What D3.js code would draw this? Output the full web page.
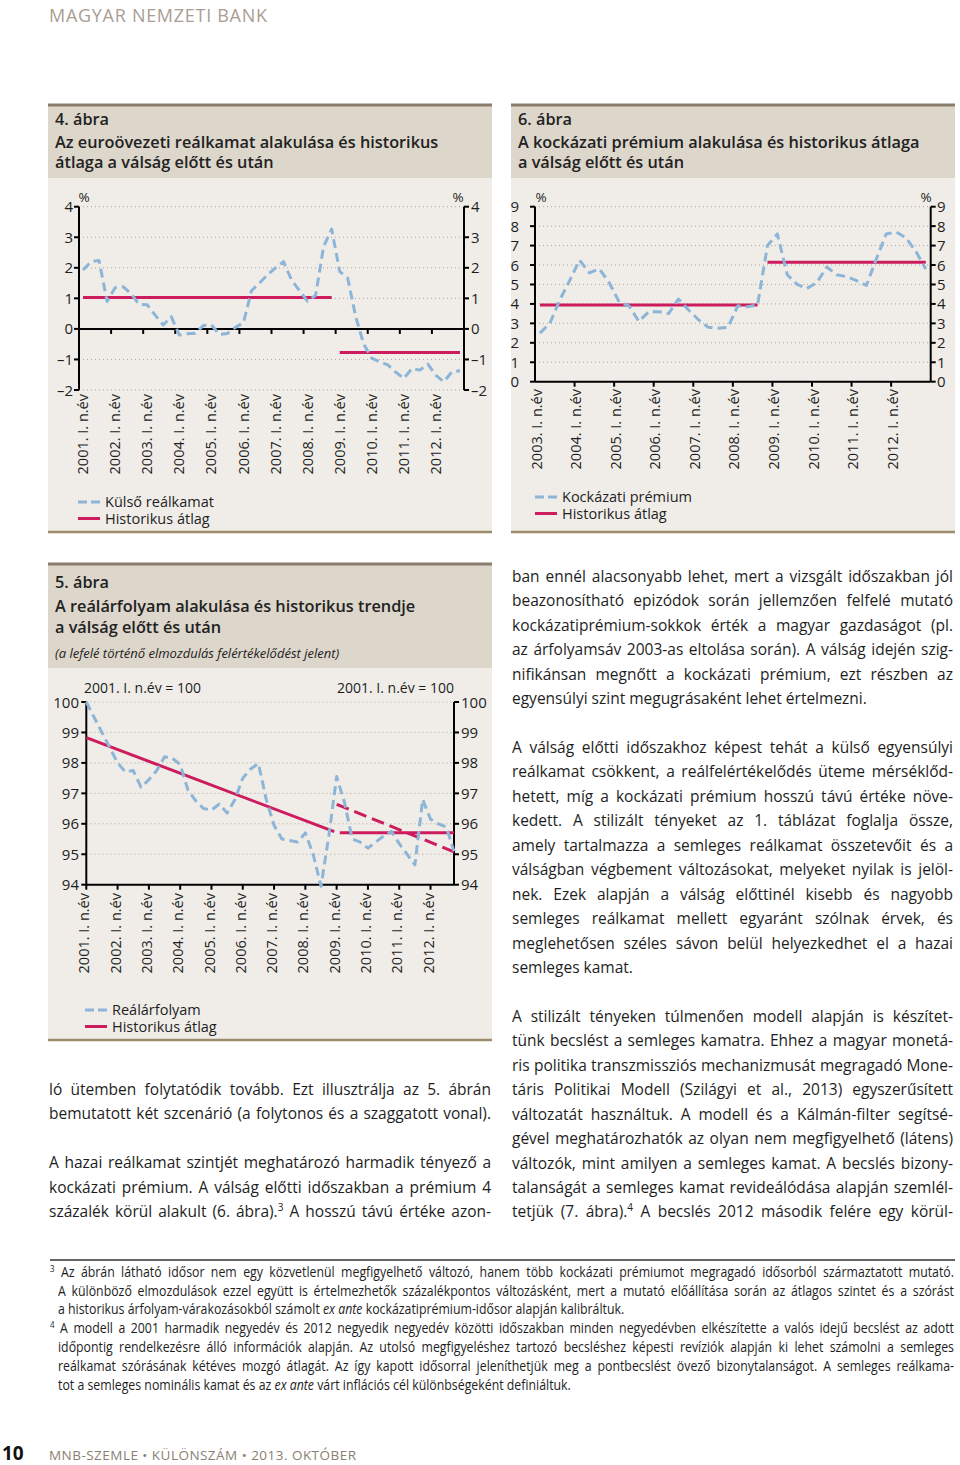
<!DOCTYPE html>
<html><head><meta charset="utf-8">
<script src="https://cdn.jsdelivr.net/npm/d3@7"></script>
<style>
body{margin:0;background:#fff;}
#page{position:relative;width:960px;height:1465px;overflow:hidden;font-family:"Open Sans",Lato,sans-serif;color:#1e1e1e;}
#page svg{position:absolute;left:0;top:0;}
.ln{position:absolute;white-space:nowrap;text-align:justify;text-align-last:justify;font-size:15.5px;}
.ln.last{text-align-last:left;}
.fn{position:absolute;white-space:nowrap;text-align:justify;text-align-last:justify;font-family:"Open Sans",sans-serif;font-size:14px;transform-origin:0 0;transform:scaleX(0.88);}
.fn.last{text-align-last:left;}
</style></head><body><div id="page"></div>
<script>
// ---------- DATA ----------
const ch4Years = [2001,2002,2003,2004,2005,2006,2007,2008,2009,2010,2011,2012];
const ch4Values = [1.93,2.2,2.24,0.9,1.35,1.38,1.15,0.8,0.79,0.45,0.13,0.4,
  -0.2,-0.16,-0.14,0.11,0.13,-0.18,-0.15,0.05,0.2,1.25,1.5,1.77,
  2.0,2.2,1.6,1.25,0.9,1.1,2.7,3.27,1.88,1.66,0.4,-0.5,
  -0.96,-1.08,-1.18,-1.42,-1.62,-1.3,-1.35,-1.15,-1.52,-1.73,-1.4,-1.37];
const ch4AvgFrom = [0,32];
const ch4AvgTo = [31,47];
const ch4AvgValue = [1.03,-0.77];
const ch4YTicks = [-2,-1,0,1,2,3,4];

const ch6Years = [2003,2004,2005,2006,2007,2008,2009,2010,2011,2012];
const ch6Values = [2.5,3.0,4.2,5.2,6.25,5.6,5.8,5.1,4.1,3.9,3.1,3.6,
  3.6,3.5,4.25,3.7,3.2,2.8,2.75,2.8,3.9,3.85,3.95,7.0,
  7.6,5.5,5.0,4.8,5.1,5.9,5.5,5.4,5.2,4.95,6.3,7.6,
  7.7,7.4,6.7,5.8];
const ch6AvgFrom = [0,23];
const ch6AvgTo = [22,39];
const ch6AvgValue = [3.95,6.14];
const ch6YTicks = [0,1,2,3,4,5,6,7,8,9];

const ch5Years = [2001,2002,2003,2004,2005,2006,2007,2008,2009,2010,2011,2012];
const ch5Values = [100,99.5,99.0,98.5,98.0,97.7,97.75,97.2,97.45,97.75,98.2,98.15,
  97.95,97.1,96.75,96.5,96.45,96.65,96.35,96.8,97.5,97.8,97.98,96.8,
  95.95,95.5,95.45,95.4,95.7,95.0,93.95,95.6,97.55,96.7,95.5,95.4,
  95.2,95.4,95.6,95.75,95.35,95.0,94.65,96.8,96.15,96.0,95.9,95.1];
const ch5TrendX = [0,31.7];
const ch5TrendV = [98.83,95.74];
const ch5FlatX = [32.4,47];
const ch5FlatV = [95.71,95.71];
const ch5DashX = [32,47];
const ch5DashV = [96.64,95.08];
const ch5YTicks = [94,95,96,97,98,99,100];

// ---------- STYLE ----------
const BLUE = "#8db5d7", PINK = "#cc1c5d", BAND = "#ddd6cb", BG = "#f0ede9";
const FONT = "'Open Sans', Lato, sans-serif";
const page = d3.select("#page");
const svg = page.append("svg").attr("width",960).attr("height",1465);

function txt(x,y,s,o={}){
  const t = svg.append("text").attr("x",x).attr("y",y).text(s)
    .attr("font-size",o.size||14.5).attr("fill",o.fill||"#1e1e1e")
    .attr("font-weight",o.weight||400).attr("text-anchor",o.anchor||"start")
    .attr("font-family",o.family||FONT);
  if(o.style) t.attr("font-style",o.style);
  if(o.len) t.attr("textLength",o.len).attr("lengthAdjust","spacing");
  return t;
}

// header / footer
txt(49,22,"MAGYAR NEMZETI BANK",{size:18,fill:"#a89e92",len:218});
txt(2,1460,"10",{size:19,weight:700,fill:"#111"});
txt(49,1460,"MNB-SZEMLE • KÜLÖNSZÁM • 2013. OKTÓBER",{size:13.5,fill:"#8a8072",len:307});

function panel(x,w,yTop,yBand,yBot,titles){
  svg.append("rect").attr("x",x).attr("y",yTop).attr("width",w).attr("height",yBand-yTop).attr("fill",BAND);
  svg.append("rect").attr("x",x).attr("y",yBand).attr("width",w).attr("height",yBot-yBand).attr("fill",BG);
  svg.append("line").attr("x1",x).attr("x2",x+w).attr("y1",yTop).attr("y2",yTop).attr("stroke","#8a7d6c").attr("stroke-width",3);
  svg.append("line").attr("x1",x).attr("x2",x+w).attr("y1",yBot).attr("y2",yBot).attr("stroke","#9c8c6c").attr("stroke-width",2.5);
  titles.forEach(t=>txt(x+7,t.y,t.s,{size:t.size||16.3,weight:t.weight||600,style:t.style,fill:"#222"}));
}

function chart(c){
  const g = svg.append("g");
  const x = c.x, y = c.y;
  const [xl,xr] = x.range();
  c.yTicks.forEach(v=>{
    if(v===c.axisV) return;
    g.append("line").attr("x1",xl).attr("x2",xr).attr("y1",y(v)).attr("y2",y(v))
      .attr("stroke","#a9a49c").attr("stroke-width",1).attr("stroke-dasharray","1,3");
  });
  const [yb,yt] = y.range();
  g.append("line").attr("x1",xl).attr("x2",xl).attr("y1",yb).attr("y2",yt).attr("stroke","#000").attr("stroke-width",2);
  g.append("line").attr("x1",xr).attr("x2",xr).attr("y1",yb).attr("y2",yt).attr("stroke","#000").attr("stroke-width",2);
  g.append("line").attr("x1",xl).attr("x2",xr).attr("y1",y(c.axisV)).attr("y2",y(c.axisV)).attr("stroke","#000").attr("stroke-width",2);
  c.yTicks.forEach(v=>{
    g.append("line").attr("x1",xl-5).attr("x2",xl).attr("y1",y(v)).attr("y2",y(v)).attr("stroke","#000").attr("stroke-width",2);
    g.append("line").attr("x1",xr).attr("x2",xr+5).attr("y1",y(v)).attr("y2",y(v)).attr("stroke","#000").attr("stroke-width",2);
    const s = (v<0?"–"+(-v):String(v));
    txt(c.leftLab,y(v)+5.5,s,{anchor:"end",size:15});
    txt(c.rightLab,y(v)+5.5,s,{size:15});
  });
  c.xTicks.forEach(q=>{
    g.append("line").attr("x1",x(q)).attr("x2",x(q)).attr("y1",y(c.axisV)).attr("y2",y(c.axisV)+5)
      .attr("stroke","#000").attr("stroke-width",2);
  });
  c.years.forEach((yr,k)=>{
    const px = c.labX(k);
    g.append("text").attr("transform",`translate(${px},${c.labTop}) rotate(-90)`)
      .attr("text-anchor","end").attr("dy","0.35em").attr("font-size",14.5)
      .attr("font-family",FONT).attr("fill","#1e1e1e")
      .text(`${yr}. I. n.év`);
  });
  const line = d3.line().x(d=>x(d[0])).y(d=>y(d[1]));
  c.pink.forEach(p=>{
    g.append("path").attr("d",line(p.pts)).attr("fill","none").attr("stroke",PINK)
      .attr("stroke-width",3).attr("stroke-dasharray",p.dash||null);
  });
  g.append("path").attr("d",line(c.blue)).attr("fill","none").attr("stroke",BLUE)
    .attr("stroke-width",3).attr("stroke-dasharray","9,5").attr("stroke-linejoin","round");
  c.legend.forEach((l,i)=>{
    const ly = c.legY + i*16.5;
    g.append("line").attr("x1",c.legX).attr("x2",c.legX+22).attr("y1",ly).attr("y2",ly)
      .attr("stroke",i===0?BLUE:PINK).attr("stroke-width",3).attr("stroke-dasharray",i===0?"9,4":null);
    txt(c.legX+27,ly+5,l);
  });
}

// ---------- 4. ábra ----------
panel(48,444,105,178,532,[
  {y:125,s:"4. ábra"},
  {y:148,s:"Az euroövezeti reálkamat alakulása és historikus"},
  {y:168,s:"átlaga a válság előtt és után"}]);
{
  const x = d3.scaleLinear().domain([0,ch4Years.length*4]).range([79,464]);
  const y = d3.scaleLinear().domain([-2,4]).range([390,206.7]);
  chart({x,y,yTicks:ch4YTicks,axisV:0,leftLab:73,rightLab:471,
    xTicks:d3.range(1,ch4Years.length).map(k=>k*4),
    years:ch4Years,labX:k=>x(k*4+0.5),labTop:394,
    blue:ch4Values.map((v,i)=>[i+0.5,v]),
    pink:ch4AvgValue.map((v,j)=>({pts:[[ch4AvgFrom[j]+0.5,v],[ch4AvgTo[j]+0.5,v]]})),
    legend:["Külső reálkamat","Historikus átlag"],legX:78,legY:502});
  txt(84,202,"%",{size:13.5,anchor:"middle"});
  txt(458,202,"%",{size:13.5,anchor:"middle"});
}

// ---------- 6. ábra ----------
panel(511,444,105,178,532,[
  {y:125,s:"6. ábra"},
  {y:148,s:"A kockázati prémium alakulása és historikus átlaga"},
  {y:168,s:"a válság előtt és után"}]);
{
  const x = d3.scaleLinear().domain([0,ch6Years.length*4]).range([535,930.7]);
  const y = d3.scaleLinear().domain([0,9]).range([381.7,206.7]);
  chart({x,y,yTicks:ch6YTicks,axisV:0,leftLab:519,rightLab:937,
    xTicks:d3.range(1,ch6Years.length).map(k=>k*4),
    years:ch6Years,labX:k=>x(k*4)+1.5,labTop:389,
    blue:ch6Values.map((v,i)=>[i+0.5,v]),
    pink:ch6AvgValue.map((v,j)=>({pts:[[ch6AvgFrom[j]+0.5,v],[ch6AvgTo[j]+0.5,v]]})),
    legend:["Kockázati prémium","Historikus átlag"],legX:535,legY:497});
  txt(541,202,"%",{size:13.5,anchor:"middle"});
  txt(926,202,"%",{size:13.5,anchor:"middle"});
}

// ---------- 5. ábra ----------
panel(48,444,564,668,1040,[
  {y:588,s:"5. ábra"},
  {y:612,s:"A reálárfolyam alakulása és historikus trendje"},
  {y:633,s:"a válság előtt és után"},
  {y:658,s:"(a lefelé történő elmozdulás felértékelődést jelent)",size:13,weight:400,style:"italic"}]);
{
  const x = d3.scaleLinear().domain([0,ch5Values.length-1]).range([86.3,454]);
  const y = d3.scaleLinear().domain([94,100]).range([884.7,702]);
  chart({x,y,yTicks:ch5YTicks,axisV:94,leftLab:79,rightLab:461,
    xTicks:d3.range(0,ch5Years.length).map(k=>k*4),
    years:ch5Years,labX:k=>x(k*4)-2,labTop:893,
    blue:ch5Values.map((v,i)=>[i,v]),
    pink:[{pts:ch5TrendX.map((q,i)=>[q,ch5TrendV[i]])},
          {pts:ch5FlatX.map((q,i)=>[q,ch5FlatV[i]])},
          {pts:ch5DashX.map((q,i)=>[q,ch5DashV[i]]),dash:"13,6"}],
    legend:["Reálárfolyam","Historikus átlag"],legX:85,legY:1010});
  txt(84,693,"2001. I. n.év = 100",{size:14});
  txt(454,693,"2001. I. n.év = 100",{size:14,anchor:"end"});
}

// ---------- TEXT ----------
const leftCol = [
  ["ló ütemben folytatódik tovább. Ezt illusztrálja az 5. ábrán",0],
  ["bemutatott két szcenárió (a folytonos és a szaggatott vonal).",0],
  null,
  ["A hazai reálkamat szintjét meghatározó harmadik tényező a",0],
  ["kockázati prémium. A válság előtti időszakban a prémium 4",0],
  ["százalék körül alakult (6. ábra).<sup>3</sup> A hosszú távú értéke azon-",0]
];
const rightCol = [
  ["ban ennél alacsonyabb lehet, mert a vizsgált időszakban jól",0],
  ["beazonosítható epizódok során jellemzően felfelé mutató",0],
  ["kockázatiprémium-sokkok érték a magyar gazdaságot (pl.",0],
  ["az árfolyamsáv 2003-as eltolása során). A válság idején szig-",0],
  ["nifikánsan megnőtt a kockázati prémium, ezt részben az",0],
  ["egyensúlyi szint megugrásaként lehet értelmezni.",1],
  null,
  ["A válság előtti időszakhoz képest tehát a külső egyensúlyi",0],
  ["reálkamat csökkent, a reálfelértékelődés üteme mérséklőd-",0],
  ["hetett, míg a kockázati prémium hosszú távú értéke növe-",0],
  ["kedett. A stilizált tényeket az 1. táblázat foglalja össze,",0],
  ["amely tartalmazza a semleges reálkamat összetevőit és a",0],
  ["válságban végbement változásokat, melyeket nyilak is jelöl-",0],
  ["nek. Ezek alapján a válság előttinél kisebb és nagyobb",0],
  ["semleges reálkamat mellett egyaránt szólnak érvek, és",0],
  ["meglehetősen széles sávon belül helyezkedhet el a hazai",0],
  ["semleges kamat.",1],
  null,
  ["A stilizált tényeken túlmenően modell alapján is készítet-",0],
  ["tünk becslést a semleges kamatra. Ehhez a magyar monetá-",0],
  ["ris politika transzmissziós mechanizmusát megragadó Mone-",0],
  ["táris Politikai Modell (Szilágyi et al., 2013) egyszerűsített",0],
  ["változatát használtuk. A modell és a Kálmán-filter segítsé-",0],
  ["gével meghatározhatók az olyan nem megfigyelhető (látens)",0],
  ["változók, mint amilyen a semleges kamat. A becslés bizony-",0],
  ["talanságát a semleges kamat revideálódása alapján szemlél-",0],
  ["tetjük (7. ábra).<sup>4</sup> A becslés 2012 második felére egy körül-",0]
];
function column(lines,x,w,y0,lh){
  lines.forEach((l,i)=>{
    if(!l) return;
    page.append("div").attr("class","ln"+(l[1]?" last":""))
      .style("left",x+"px").style("width",w+"px")
      .style("top",(y0+i*lh-lh/2)+"px").style("height",lh+"px").style("line-height",lh+"px")
      .html(l[0]);
  });
}
column(leftCol,49,442,1089,24.45);
column(rightCol,512,441,576,24.45);

d3.selectAll(".ln sup").style("font-size","10px").style("line-height","0").style("vertical-align","6px");

svg.append("line").attr("x1",50).attr("x2",955).attr("y1",1260).attr("y2",1260).attr("stroke","#333").attr("stroke-width",1.5);
const notes = [
  ["<sup>3</sup> Az ábrán látható idősor nem egy közvetlenül megfigyelhető változó, hanem több kockázati prémiumot megragadó idősorból származtatott mutató.",0,50],
  ["A különböző elmozdulások ezzel együtt is értelmezhetők százalékpontos változásként, mert a mutató előállítása során az átlagos szintet és a szórást",0,58],
  ["a historikus árfolyam-várakozásokból számolt <i>ex ante</i> kockázatiprémium-idősor alapján kalibráltuk.",1,58],
  ["<sup>4</sup> A modell a 2001 harmadik negyedév és 2012 negyedik negyedév közötti időszakban minden negyedévben elkészítette a valós idejű becslést az adott",0,50],
  ["időpontig rendelkezésre álló információk alapján. Az utolsó megfigyeléshez tartozó becsléshez képesti revíziók alapján ki lehet számolni a semleges",0,58],
  ["reálkamat szórásának kétéves mozgó átlagát. Az így kapott idősorral jeleníthetjük meg a pontbecslést övező bizonytalanságot. A semleges reálkama-",0,58],
  ["tot a semleges nominális kamat és az <i>ex ante</i> várt inflációs cél különbségeként definiáltuk.",1,58]
];
const noteY = [1271,1290,1308,1327,1346,1365,1384];
const SX = 0.88;
notes.forEach((n,i)=>{
  page.append("div").attr("class","fn"+(n[1]?" last":""))
    .style("left",n[2]+"px").style("width",((954-n[2])/SX)+"px")
    .style("top",(noteY[i]-8.5)+"px").style("height","17px").style("line-height","17px")
    .html(n[0]);
});
d3.selectAll(".fn sup").style("font-size","9px").style("line-height","0").style("vertical-align","5px");
</script></body></html>
